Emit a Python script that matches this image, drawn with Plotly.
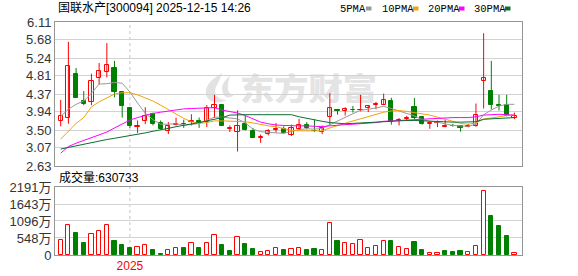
import base64
import plotly.graph_objects as go

# ---------------- data (weekly K-line) ----------------
title_text = "国联水产[300094] 2025-12-15 14:26"
ma_names = ["5PMA", "10PMA", "20PMA", "30PMA"]

opens = [3.725, 3.78, 4.85, 4.20, 4.18, 4.75, 4.89, 5.00, 4.41, 4.03,
         3.575, 3.725, 3.89, 3.68, 3.48, 3.62, 3.65, 3.705, 3.725, 3.69,
         4.03, 4.10, 3.525, 3.44, 3.64, 3.48, 3.31, 3.40, 3.51, 3.515,
         3.37, 3.515, 3.63, 3.47, 3.45, 3.81, 3.985, 3.97, 3.99, 3.98,
         4.03, 4.105, 4.11, 4.20, 3.725, 3.77, 4.06, 3.82, 3.64, 3.665,
         3.565, 3.595, 3.60, 3.565, 3.59, 4.68, 4.44, 4.10, 4.10, 3.80]
highs = [4.225, 5.63, 5.00, 4.44, 4.86, 5.12, 5.60, 5.17, 4.41, 4.03,
         3.73, 4.05, 3.92, 3.73, 3.69, 3.80, 3.75, 3.88, 3.80, 4.10,
         4.35, 4.10, 3.61, 3.975, 3.85, 3.55, 3.39, 3.52, 3.67, 3.59,
         3.63, 3.77, 3.69, 3.76, 3.61, 4.39, 4.00, 4.05, 4.08, 4.35,
         4.10, 4.18, 4.38, 4.28, 3.79, 3.84, 4.27, 3.84, 3.71, 3.73,
         3.75, 3.65, 3.60, 3.65, 4.14, 5.84, 5.17, 4.35, 4.35, 3.92]
lows = [3.59, 3.65, 4.28, 4.10, 4.10, 4.60, 4.77, 4.29, 3.80, 3.55,
        3.43, 3.64, 3.61, 3.51, 3.40, 3.61, 3.55, 3.61, 3.55, 3.57,
        3.79, 3.60, 3.45, 2.98, 3.49, 3.31, 3.19, 3.37, 3.435, 3.41,
        3.355, 3.49, 3.515, 3.45, 3.40, 3.61, 3.87, 3.85, 3.92, 3.95,
        3.935, 4.00, 4.10, 3.63, 3.61, 3.71, 3.76, 3.63, 3.53, 3.57,
        3.565, 3.58, 3.46, 3.565, 3.58, 4.02, 4.00, 3.97, 3.83, 3.76]
closes = [3.83, 5.04, 4.28, 4.14, 4.68, 4.92, 5.06, 4.43, 4.09, 3.59,
          3.585, 3.83, 3.65, 3.53, 3.60, 3.65, 3.64, 3.715, 3.67, 4.03,
          4.10, 3.605, 3.535, 3.59, 3.51, 3.315, 3.32, 3.47, 3.52, 3.435,
          3.56, 3.61, 3.555, 3.465, 3.55, 4.04, 3.95, 4.01, 3.98, 3.99,
          4.09, 4.115, 4.22, 3.70, 3.735, 3.78, 3.80, 3.65, 3.67, 3.675,
          3.59, 3.585, 3.555, 3.59, 3.87, 4.75, 4.11, 4.09, 3.83, 3.85]

ma5 = [3.83, 4.00, 4.12, 4.20, 4.39, 4.61, 4.62, 4.65, 4.63, 4.42,
       4.15, 3.91, 3.75, 3.64, 3.64, 3.65, 3.62, 3.63, 3.66, 3.74,
       3.81, 3.81, 3.79, 3.77, 3.67, 3.52, 3.46, 3.44, 3.43, 3.42,
       3.46, 3.51, 3.53, 3.52, 3.54, 3.63, 3.70, 3.79, 3.89, 3.98,
       4.00, 4.03, 4.07, 4.02, 3.96, 3.90, 3.84, 3.75, 3.71, 3.69,
       3.65, 3.61, 3.60, 3.59, 3.64, 3.87, 3.98, 4.08, 4.12, 4.12]
ma10 = [3.28, 3.46, 3.66, 3.80, 4.06, 4.18, 4.28, 4.37, 4.40, 4.40,
        4.35, 4.28, 4.20, 4.10, 3.99, 3.90, 3.78, 3.70, 3.66, 3.68,
        3.72, 3.72, 3.71, 3.71, 3.70, 3.67, 3.63, 3.60, 3.58, 3.53,
        3.49, 3.48, 3.48, 3.48, 3.48, 3.55, 3.61, 3.67, 3.72, 3.77,
        3.82, 3.87, 3.93, 3.96, 3.97, 3.95, 3.92, 3.89, 3.86, 3.81,
        3.76, 3.71, 3.66, 3.64, 3.67, 3.76, 3.79, 3.83, 3.85, 3.86]
ma20 = [2.94, 3.10, 3.18, 3.25, 3.32, 3.38, 3.45, 3.55, 3.65, 3.74,
        3.80, 3.85, 3.90, 3.93, 3.96, 3.99, 4.01, 4.02, 4.03, 4.04,
        4.04, 3.98, 3.95, 3.91, 3.85, 3.77, 3.69, 3.65, 3.62, 3.61,
        3.60, 3.60, 3.60, 3.59, 3.58, 3.60, 3.62, 3.63, 3.64, 3.65,
        3.66, 3.68, 3.71, 3.72, 3.74, 3.75, 3.76, 3.77, 3.78, 3.79,
        3.80, 3.80, 3.80, 3.80, 3.82, 3.86, 3.87, 3.88, 3.87, 3.86]
ma30 = [3.04, 3.08, 3.12, 3.16, 3.19, 3.23, 3.27, 3.30, 3.33, 3.36,
        3.40, 3.43, 3.47, 3.50, 3.54, 3.58, 3.61, 3.64, 3.68, 3.72,
        3.76, 3.80, 3.86, 3.87, 3.87, 3.87, 3.87, 3.87, 3.87, 3.88,
        3.87, 3.82, 3.78, 3.75, 3.71, 3.68, 3.66, 3.65, 3.66, 3.67,
        3.68, 3.69, 3.71, 3.72, 3.72, 3.73, 3.73, 3.72, 3.71, 3.70,
        3.69, 3.69, 3.69, 3.69, 3.70, 3.76, 3.77, 3.78, 3.79, 3.80]

# volume in 万 and its up(1)/down(0) flag
volumes = [473, 956, 709, 387, 666, 763, 956, 451, 322, 226,
           258, 311, 161, 32, 150, 226, 226, 376, 226, 376,
           634, 322, 129, 580, 354, 193, 86, 118, 215, 161,
           193, 215, 161, 193, 150, 1020, 451, 376, 344, 483,
           226, 290, 440, 451, 247, 193, 419, 161, 64, 64,
           129, 107, 129, 86, 290, 2051, 1257, 934, 612, 63.07]
vol_up = [1, 1, 0, 0, 1, 1, 1, 0, 0, 0,
          1, 1, 0, 0, 1, 1, 0, 1, 0, 1,
          1, 0, 0, 1, 0, 0, 1, 1, 1, 0,
          1, 1, 0, 0, 1, 1, 0, 1, 1, 1,
          1, 1, 1, 0, 1, 1, 0, 0, 1, 1,
          0, 0, 0, 1, 1, 1, 0, 0, 0, 1]
latest_volume = 630733

price_tick_labels = ["2.63", "3.07", "3.50", "3.94", "4.37", "4.81", "5.24", "5.68", "6.11"]
vol_tick_values = [0, 548, 1096, 1643, 2191]
vol_tick_labels = ["0", "548万", "1096万", "1643万", "2191万"]
year_label = "2025"
year_start = 9

# ---------------- styles / layout geometry ----------------
RED = "#ff0000"
GREEN = "#008000"
MA_COLORS = ["#9a9a9a", "#f0a30a", "#ff00ff", "#0a6e31"]
FRAME = "#959595"
GRID = "#d2d2d2"
W, H = 578, 276
PL, PR, PT, PB = 55, 522, 22, 255
PRICE_BOTTOM, VOL_TOP = 166, 187
PH = PB - PT
PW = PR - PL

def px_x(px):
    return (px - PL) / PW

def px_y(py):
    return (PB - py) / PH

n = len(closes)
idx = list(range(n))
BODY_W = 0.55

fig = go.Figure()

# wicks
for up in (True, False):
    wx, wy = [], []
    for i in idx:
        if (closes[i] >= opens[i]) == up:
            wx += [i, i, None]
            wy += [lows[i], highs[i], None]
    fig.add_trace(go.Scatter(x=wx, y=wy, mode="lines",
                             line=dict(color=RED if up else GREEN, width=1),
                             hoverinfo="skip", xaxis="x", yaxis="y"))

# bodies
for up in (True, False):
    bx, bb, bh = [], [], []
    for i in idx:
        if (closes[i] >= opens[i]) == up:
            bx.append(i)
            bb.append(min(opens[i], closes[i]))
            bh.append(max(abs(closes[i] - opens[i]), 0.012))
    col = RED if up else GREEN
    fig.add_trace(go.Bar(x=bx, y=bh, base=bb, width=BODY_W,
                         marker=dict(color="white" if up else GREEN,
                                     line=dict(color=col, width=1)),
                         hoverinfo="skip", xaxis="x", yaxis="y"))

# moving averages
for series, col in zip([ma5, ma10, ma20, ma30], MA_COLORS):
    fig.add_trace(go.Scatter(x=idx, y=series, mode="lines",
                             line=dict(color=col, width=1),
                             hoverinfo="skip", xaxis="x", yaxis="y"))

# volume
for up in (1, 0):
    vx = [i for i in idx if vol_up[i] == up]
    vy = [volumes[i] for i in idx if vol_up[i] == up]
    col = RED if up else GREEN
    fig.add_trace(go.Bar(x=vx, y=vy, width=BODY_W,
                         marker=dict(color="white" if up else GREEN,
                                     line=dict(color=col, width=1)),
                         hoverinfo="skip", xaxis="x2", yaxis="y2"))

xr = [-0.74, n - 1 + 0.99]
tick_font = dict(family="Arial, 'Liberation Sans', 'Noto Sans CJK SC'", size=13, color="#333333")
axis_common = dict(showline=True, mirror=True, linecolor=FRAME, linewidth=1,
                   zeroline=False, fixedrange=True, ticks="")

fig.update_layout(
    width=W, height=H,
    margin=dict(l=PL, r=W - PR, t=PT, b=H - PB, autoexpand=False),
    paper_bgcolor="white", plot_bgcolor="rgba(0,0,0,0)",
    showlegend=False, barmode="overlay", bargap=0,
    xaxis=dict(domain=[0, 1], range=xr, showticklabels=False, showgrid=False,
               anchor="y", **axis_common),
    xaxis2=dict(domain=[0, 1], range=xr, showgrid=False, anchor="y2",
                tickmode="array", tickvals=[year_start], ticktext=[year_label],
                tickfont=dict(family="Arial, 'Liberation Sans'", size=12, color=RED),
                **axis_common),
    yaxis=dict(domain=[px_y(PRICE_BOTTOM), 1], range=[2.63, 6.11], anchor="x",
               tickmode="array", tickvals=[float(t) for t in price_tick_labels],
               ticktext=price_tick_labels, showgrid=True, gridcolor=GRID, gridwidth=1,
               tickfont=tick_font, **axis_common),
    yaxis2=dict(domain=[0, px_y(VOL_TOP)], range=[0, vol_tick_values[-1]], anchor="x2",
                tickmode="array", tickvals=vol_tick_values, ticktext=vol_tick_labels,
                showgrid=True, gridcolor=GRID, gridwidth=1,
                tickfont=tick_font, **axis_common),
)

# dashed year separator in both panels
for yref in ("y domain", "y2 domain"):
    fig.add_shape(type="line", xref="x" if yref.startswith("y ") else "x2", yref=yref,
                  x0=year_start, x1=year_start, y0=0, y1=1, layer="below",
                  line=dict(color="#c4c4c4", width=1, dash="3px,3px"))

cjk_font = "Arial, 'Liberation Sans', 'Noto Sans CJK SC'"
fig.add_annotation(text=title_text, xref="paper", yref="paper", x=px_x(56), y=px_y(8),
                   xanchor="left", yanchor="middle", showarrow=False,
                   font=dict(family=cjk_font, size=12, color="#000000"))
fig.add_annotation(text="成交量:" + str(latest_volume), xref="paper", yref="paper",
                   x=px_x(57), y=px_y(177), xanchor="left", yanchor="middle",
                   showarrow=False, font=dict(family=cjk_font, size=12, color="#000000"))

# MA legend
legend_text_x = [338, 380, 426, 472]
legend_sq_x = [366, 413, 459, 505]
for name, col, tx, sx in zip(ma_names, MA_COLORS, legend_text_x, legend_sq_x):
    fig.add_annotation(text=name, xref="paper", yref="paper", x=px_x(tx), y=px_y(9),
                       xanchor="left", yanchor="middle", showarrow=False,
                       font=dict(family="'Liberation Mono', monospace", size=10.5, color="#000000"))
    fig.add_shape(type="rect", xref="paper", yref="paper",
                  x0=px_x(sx), x1=px_x(sx + 5.5), y0=px_y(10.5), y1=px_y(6.5),
                  line=dict(width=0), fillcolor=col)

# watermark
svg = (
    '<svg xmlns="http://www.w3.org/2000/svg" width="177" height="30" viewBox="0 0 177 30">'
    '<path d="M22 0 C9 7 3 16 7 24 C10 30 20 31 27 27 C17 27 12 20 17 12 C19 8 21 4 22 0 Z" fill="#e2e2e2"/>'
    '<path d="M30 3 C22 9 20 16 24 22 C27 26 32 25 34 21 C30 22 27 18 28 13 C28 9 29 6 30 3 Z" fill="#e2e2e2"/>'
    '<text x="40" y="27" font-family="Noto Sans CJK SC" font-weight="900" font-size="31" '
    'fill="#e4e4e4" textLength="137" lengthAdjust="spacingAndGlyphs">东方财富</text>'
    '</svg>'
)
fig.add_layout_image(source="data:image/svg+xml;base64," + base64.b64encode(svg.encode("utf-8")).decode(),
                     xref="paper", yref="paper", x=px_x(200), y=px_y(73),
                     sizex=177 / PW, sizey=30 / PH, xanchor="left", yanchor="top",
                     sizing="stretch", layer="below")

fig.write_html("out.html", config={"displayModeBar": False})
